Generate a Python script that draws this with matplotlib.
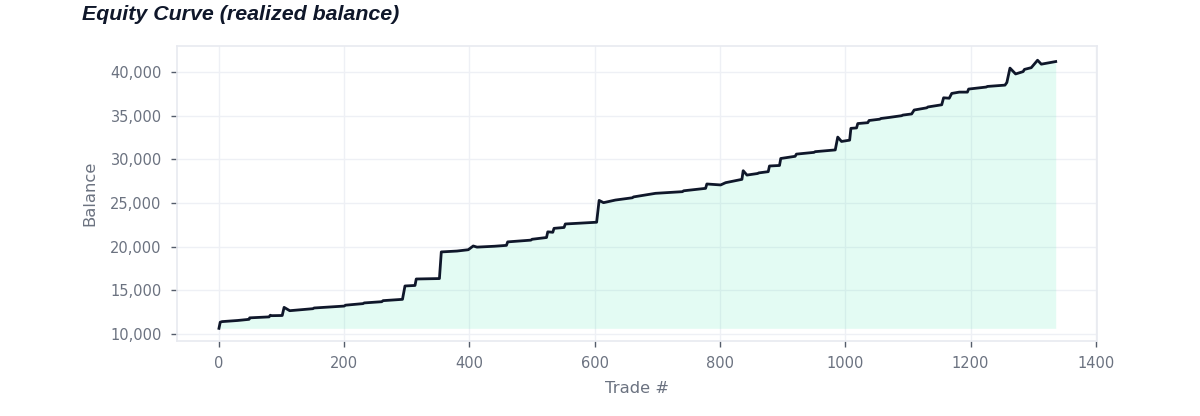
#!/usr/bin/env python3

"""
Equity curve (realized balance) per trade
"""

import matplotlib
matplotlib.use("Agg")
import matplotlib.pyplot as plt
from matplotlib.ticker import FuncFormatter


# vertices of the balance curve
trade = [0, 2, 5, 30, 48, 49, 80, 82, 84, 101, 104, 113, 150, 152, 200, 202, 230,
         232, 260, 262, 293, 297, 313, 315, 352, 355, 380, 398, 406, 412, 440, 459,
         461, 498, 500, 523, 525, 533, 535, 551, 553, 603, 607, 614, 633, 660, 662,
         697, 740, 742, 777, 779, 801, 809, 835, 837, 843, 860, 862, 877, 879, 895,
         897, 920, 922, 950, 952, 984, 988, 994, 1007, 1009, 1018, 1020, 1036, 1038,
         1055, 1057, 1070, 1090, 1092, 1106, 1110, 1130, 1132, 1154, 1157, 1166,
         1170, 1182, 1195, 1197, 1225, 1227, 1255, 1258, 1263, 1272, 1284, 1286,
         1297, 1307, 1313, 1336]
balance = [10650, 11350, 11420, 11550, 11680, 11850, 11960, 12150, 12100, 12120,
           13050, 12670, 12900, 12980, 13200, 13300, 13480, 13560, 13700, 13820,
           13970, 15500, 15560, 16300, 16350, 19400, 19500, 19650, 20080, 19950,
           20050, 20150, 20550, 20750, 20850, 21050, 21700, 21650, 22100, 22200,
           22600, 22800, 25300, 25040, 25340, 25600, 25700, 26110, 26300, 26400,
           26680, 27180, 27070, 27330, 27710, 28700, 28200, 28380, 28450, 28590,
           29240, 29300, 30100, 30350, 30600, 30800, 30880, 31080, 32550, 32050,
           32200, 33550, 33600, 34100, 34200, 34450, 34600, 34680, 34800, 35000,
           35070, 35200, 35650, 35900, 36000, 36250, 37050, 37000, 37550, 37700,
           37700, 38050, 38280, 38350, 38500, 38800, 40450, 39780, 40050, 40300,
           40500, 41350, 40900, 41200]

x_ticks = [0, 200, 400, 600, 800, 1000, 1200, 1400]
y_ticks = [10000, 15000, 20000, 25000, 30000, 35000, 40000]

grid_col = "#eef0f5"
text_col = "#6b7280"

fig = plt.figure(figsize=(12, 4.16), dpi=100)
ax = fig.add_axes([0.1475, 0.1803, 0.7667, 0.7091])

ax.fill_between(trade, balance, balance[0], color="#2ee6a6", alpha=0.13, linewidth=0)
ax.plot(trade, balance, color="#0f172a", linewidth=2.0, solid_joinstyle="round")

ax.set_xlim(-67, 1402)
ax.set_ylim(9200, 42980)
ax.set_xticks(x_ticks)
ax.set_yticks(y_ticks)
ax.yaxis.set_major_formatter(FuncFormatter(lambda v, p: f"{int(v):,}"))

ax.grid(True, color=grid_col, linewidth=1)
ax.set_axisbelow(True)
for s in ax.spines.values():
    s.set_color("#e8eaf0")
    s.set_linewidth(1.2)

ax.tick_params(axis="both", direction="out", length=4, width=1, color="#555d6b",
               labelcolor=text_col, labelsize=10.5)
ax.tick_params(axis="x", pad=7)
ax.tick_params(axis="y", pad=7)

ax.set_xlabel("Trade #", color=text_col, fontsize=11.8, labelpad=7)
ax.set_ylabel("Balance", color=text_col, fontsize=11.8, labelpad=9)

fig.text(0.068, 0.965, "Equity Curve (realized balance)", fontsize=15.4,
         fontweight="bold", fontstyle="italic", family="Liberation Sans",
         color="#0f172a", va="center", ha="left")

fig.savefig("out.png", dpi=100, facecolor="white")
plt.close(fig)
